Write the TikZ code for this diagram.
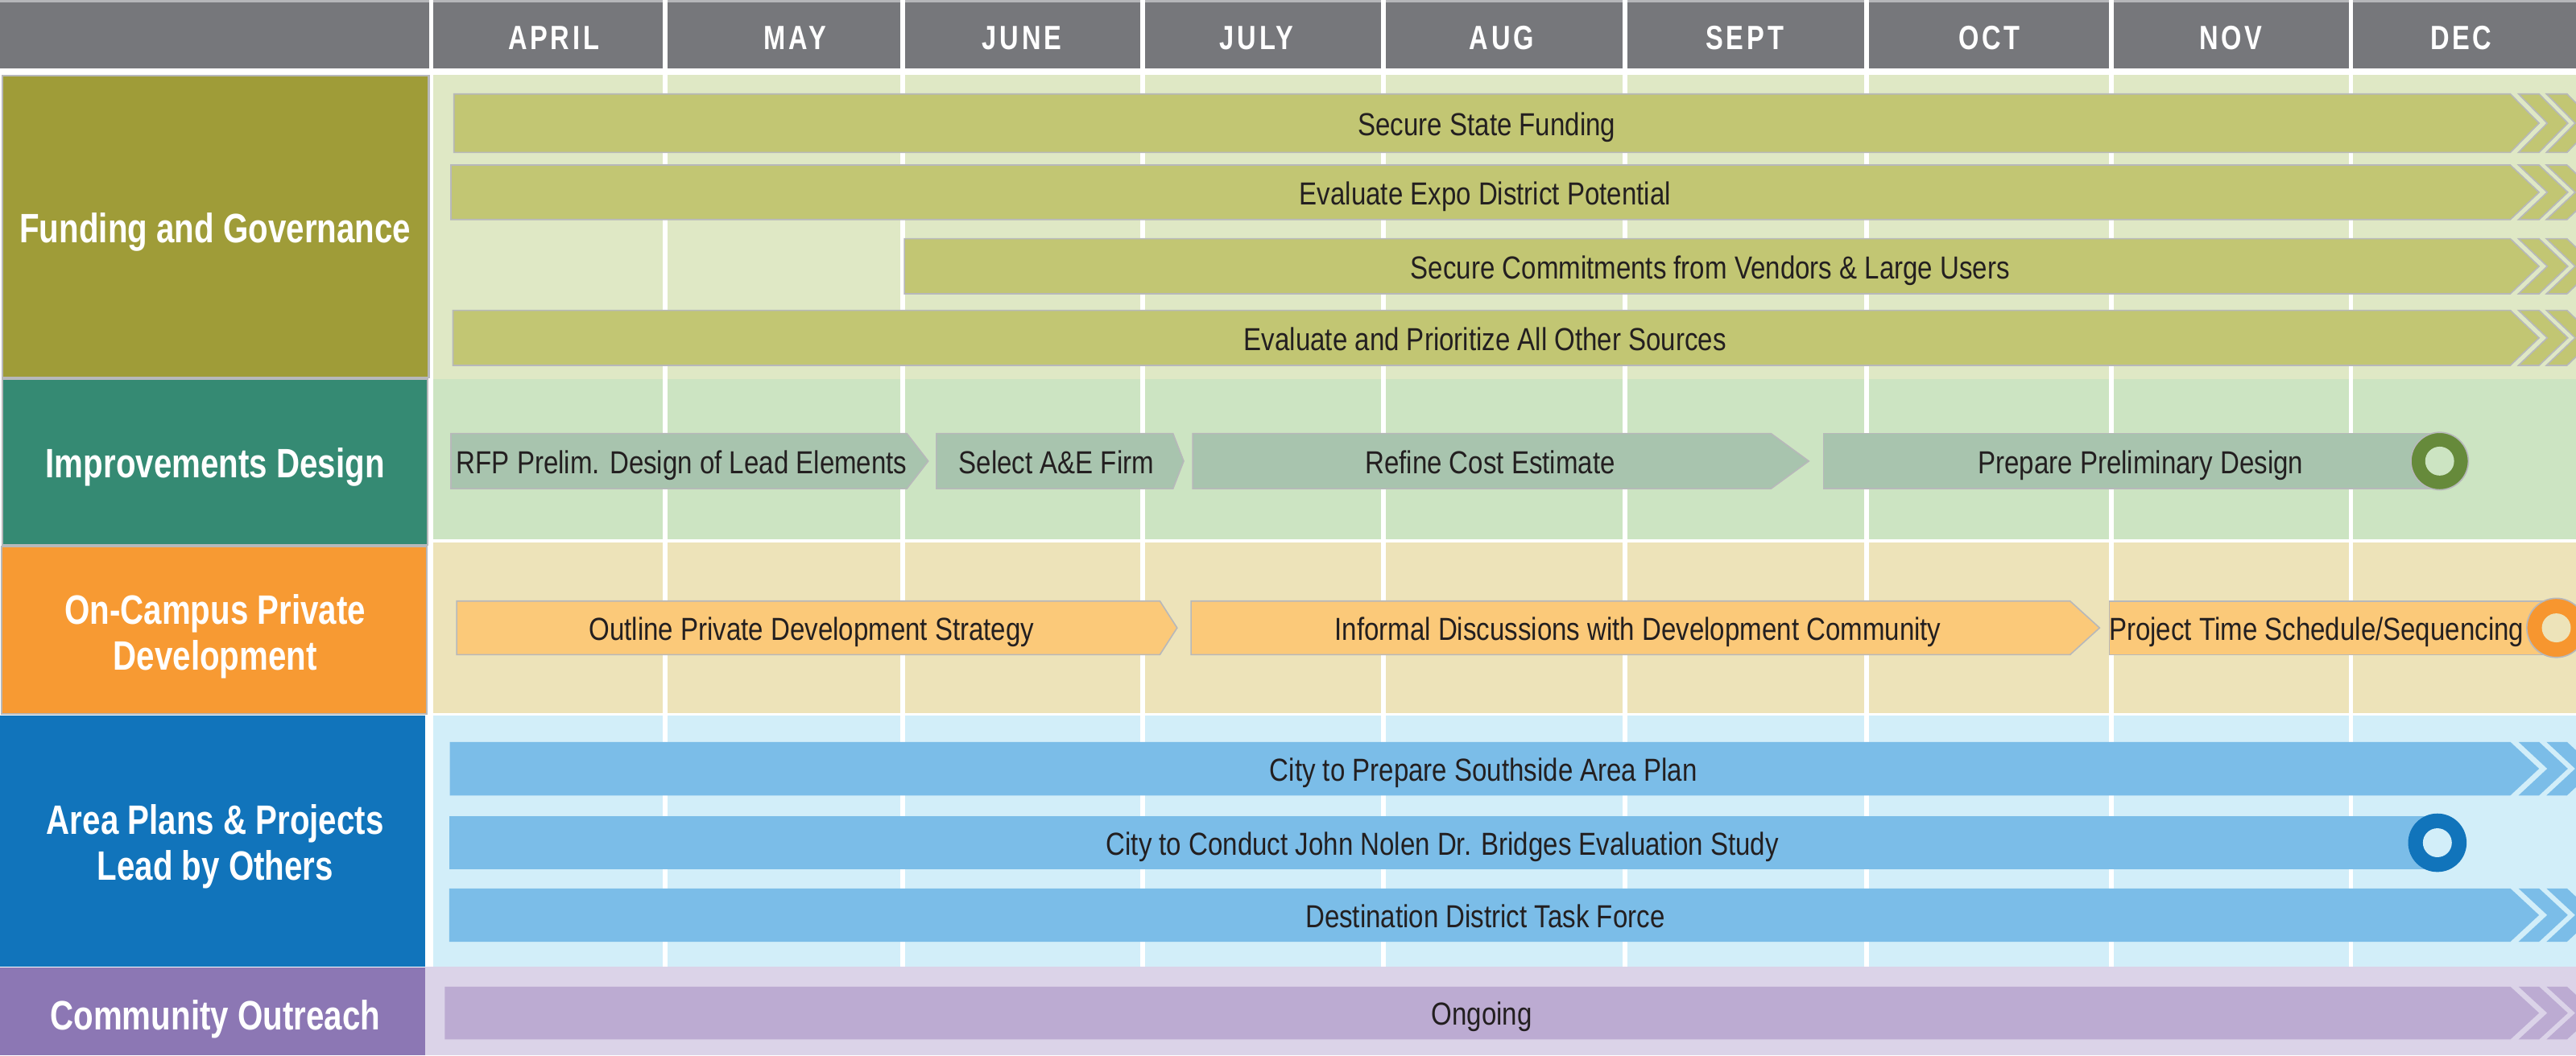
\documentclass[tikz,border=0pt]{standalone}
\usepackage{fontspec}
\setmainfont{Liberation Sans}[FakeStretch=0.835]
\newfontfamily\labfont{Liberation Sans}[FakeStretch=0.79]
\newfontfamily\monfont{Liberation Sans}[FakeStretch=0.78,LetterSpace=9]
\definecolor{hdr}{HTML}{76777B}
\definecolor{hdrtop}{HTML}{B5B6B9}
\definecolor{fundlab}{HTML}{9F9C38}
\definecolor{fundbg}{HTML}{DFE8C5}
\definecolor{fundbar}{HTML}{C2C673}
\definecolor{implab}{HTML}{358A73}
\definecolor{impbg}{HTML}{CCE4C2}
\definecolor{impbar}{HTML}{A8C4AE}
\definecolor{impring}{HTML}{668A3B}
\definecolor{camplab}{HTML}{F79A33}
\definecolor{campbg}{HTML}{EDE3B9}
\definecolor{campbar}{HTML}{FBC979}
\definecolor{campring}{HTML}{F7962F}
\definecolor{arealab}{HTML}{1174BB}
\definecolor{areabg}{HTML}{D2EEF9}
\definecolor{areabar}{HTML}{7BBDE8}
\definecolor{arearing}{HTML}{1174BB}
\definecolor{commlab}{HTML}{8C77B4}
\definecolor{commbg}{HTML}{DBD3E8}
\definecolor{commbar}{HTML}{BCABD2}
\definecolor{barline}{HTML}{B7B8BA}
\definecolor{txt}{HTML}{231F20}
% long bar with two chevrons: #1 x-left, #2 y-top, #3 y-bottom, #4 style
\newcommand\LongBar[4]{%
  \path[#4] (#1,#2) -- (1528,#2) -- (1545.5,{(#2+#3)/2}) -- (1528,#3) -- (#1,#3) -- cycle;
  \path[#4] (1533,#2) -- (1545.5,#2) -- (1563,{(#2+#3)/2}) -- (1545.5,#3) -- (1533,#3) -- (1550.5,{(#2+#3)/2}) -- cycle;
  \path[#4] (1550,#2) -- (1562.5,#2) -- (1580,{(#2+#3)/2}) -- (1562.5,#3) -- (1550,#3) -- (1567.5,{(#2+#3)/2}) -- cycle;
}
% pointed bar: #1 x-left, #2 x-right, #3 tip x, #4 y-top, #5 y-bottom, #6 style
\newcommand\TipBar[6]{%
  \path[#6] (#1,#4) -- (#2,#4) -- (#3,{(#4+#5)/2}) -- (#2,#5) -- (#1,#5) -- cycle;
}
% bar ending in a ring: #1 x-left, #2 ring x, #3 y-top, #4 y-bottom, #5 bar style, #6 ring style, #7 hole colour, #8 radius
\newcommand\RingBar[8]{%
  \path[#5] (#1,#3) rectangle (#2,#4);
  \path[#6] (#2,{(#3+#4)/2}) circle[radius=#8];
  \fill[#7] (#2,{(#3+#4)/2}) circle[radius=8.8];
}
\begin{document}
\begin{tikzpicture}[x=1pt,y=-1pt,
  bartext/.style={font=\fontsize{19.4}{22}\selectfont, text=txt, inner sep=0pt, anchor=base},
  labtext/.style={font=\labfont\bfseries\fontsize{25}{28}\selectfont, text=white, align=center, inner sep=0pt},
  montext/.style={font=\monfont\bfseries\fontsize{20.5}{24}\selectfont, text=white, inner sep=0pt, anchor=base},
  sepline/.style={draw=white, line width=2.8pt},
  grayedge/.style={draw=barline, line width=0.8pt},
  labedge/.style={draw=barline, line width=1pt}]
\useasboundingbox (0,0) rectangle (1568,642.6);
\clip (0,0) rectangle (1568,642.6);
\fill[white] (0,0) rectangle (1568,642.6);
% header
\fill[hdrtop] (0,0) rectangle (1568,1.5);
\fill[hdr] (0,1.3) rectangle (1568,41.7);
% row backgrounds
\fill[fundbg] (263.7,45.4) rectangle (1568,230.7);
\fill[impbg] (263.7,230.7) rectangle (1568,328.5);
\fill[campbg] (263.7,330.4) rectangle (1568,434.2);
\fill[areabg] (263.7,435.6) rectangle (1568,588.5);
\fill[commbg] (259,588.5) rectangle (1568,642.6);
% separator lines
\path[draw=white, line width=2.4pt] (262.5,0) -- (262.5,45.4);
\foreach \mx in {405,549.5,695.5,842,989,1136,1285,1431}
  \path[sepline] (\mx,0) -- (\mx,588.5);
% row labels
\path[fill=fundlab, labedge] (1.3,46) rectangle (261,229.8);
\path[fill=implab, labedge] (1.3,230.7) rectangle (260.4,331.9);
\path[fill=camplab, labedge] (0.8,332.9) rectangle (260,434.6);
\fill[arealab] (0,435.8) rectangle (259,588.7);
\fill[commlab] (0,589) rectangle (259,642.6);
\node[labtext, anchor=base] (lfund) at (131,148) {Funding and Governance};
\node[labtext, anchor=base] (limp) at (131,291) {Improvements Design};
\node[labtext, anchor=center] (lcamp) at (131,387.4) {On-Campus Private\\Development};
\node[labtext, anchor=center] (larea) at (131,515.5) {Area Plans \& Projects\\Lead by Others};
\node[labtext, anchor=base] (lcomm) at (131,627) {Community Outreach};
% months
\node[montext] (mapr) at (337,30.2) {APRIL};
\node[montext] (mmay) at (484,30.2) {MAY};
\node[montext] (mjun) at (622,30.2) {JUNE};
\node[montext] (mjul) at (765,30.2) {JULY};
\node[montext] (maug) at (914,30.2) {AUG};
\node[montext] (msep) at (1062,30.2) {SEPT};
\node[montext] (moct) at (1211,30.2) {OCT};
\node[montext] (mnov) at (1358,30.2) {NOV};
\node[montext] (mdec) at (1498,30.2) {DEC};
% funding and governance bars
\LongBar{276.3}{57.2}{92.8}{fill=fundbar, grayedge}
\LongBar{274.5}{100.5}{133.7}{fill=fundbar, grayedge}
\LongBar{550.5}{145.4}{178.9}{fill=fundbar, grayedge}
\LongBar{275.7}{189}{222.5}{fill=fundbar, grayedge}
\node[bartext] (f1) at (905,82.5) {Secure State Funding};
\node[bartext] (f2) at (904,124.6) {Evaluate Expo District Potential};
\node[bartext] (f3) at (1041,169.7) {Secure Commitments from Vendors \& Large Users};
\node[bartext] (f4) at (904,213.3) {Evaluate and Prioritize All Other Sources};
% improvements design bars
\TipBar{274.5}{552}{565}{264}{297.6}{fill=impbar, grayedge}
\TipBar{570}{714}{720.5}{264}{297.6}{fill=impbar, grayedge}
\TipBar{726}{1078}{1101}{264}{297.6}{fill=impbar, grayedge}
\RingBar{1110}{1485}{264}{297.6}{fill=impbar, grayedge}{fill=impring, grayedge}{impbg}{17.5}
\node[bartext] (i1) at (415,288.3) {RFP Prelim. Design of Lead Elements};
\node[bartext] (i2) at (643,288.3) {Select A\&E Firm};
\node[bartext] (i3) at (907,288.3) {Refine Cost Estimate};
\node[bartext] (i4) at (1303,288.3) {Prepare Preliminary Design};
% on-campus private development bars
\TipBar{278}{706}{716.5}{366}{398.7}{fill=campbar, grayedge}
\TipBar{725}{1260}{1278}{366}{398.7}{fill=campbar, grayedge}
\RingBar{1284}{1556}{366}{398.7}{fill=campbar, grayedge}{fill=campring, grayedge}{campbg}{18}
\node[bartext] (c1) at (494,389.8) {Outline Private Development Strategy};
\node[bartext] (c2) at (997,389.8) {Informal Discussions with Development Community};
\node[bartext] (c3) at (1410,389.8) {Project Time Schedule/Sequencing};
% area plans bars
\LongBar{273.8}{451.8}{484.4}{fill=areabar}
\RingBar{273.5}{1483.6}{497}{529.4}{fill=areabar}{fill=arearing}{areabg}{17.8}
\LongBar{273.5}{541}{573.5}{fill=areabar}
\node[bartext] (a1) at (903,475.6) {City to Prepare Southside Area Plan};
\node[bartext] (a2) at (878,520.7) {City to Conduct John Nolen Dr. Bridges Evaluation Study};
\node[bartext] (a3) at (904,564.8) {Destination District Task Force};
% community outreach bar
\LongBar{270.8}{600.8}{633}{fill=commbar}
\node[bartext] (o1) at (902,624.4) {Ongoing};
\end{tikzpicture}
\end{document}
